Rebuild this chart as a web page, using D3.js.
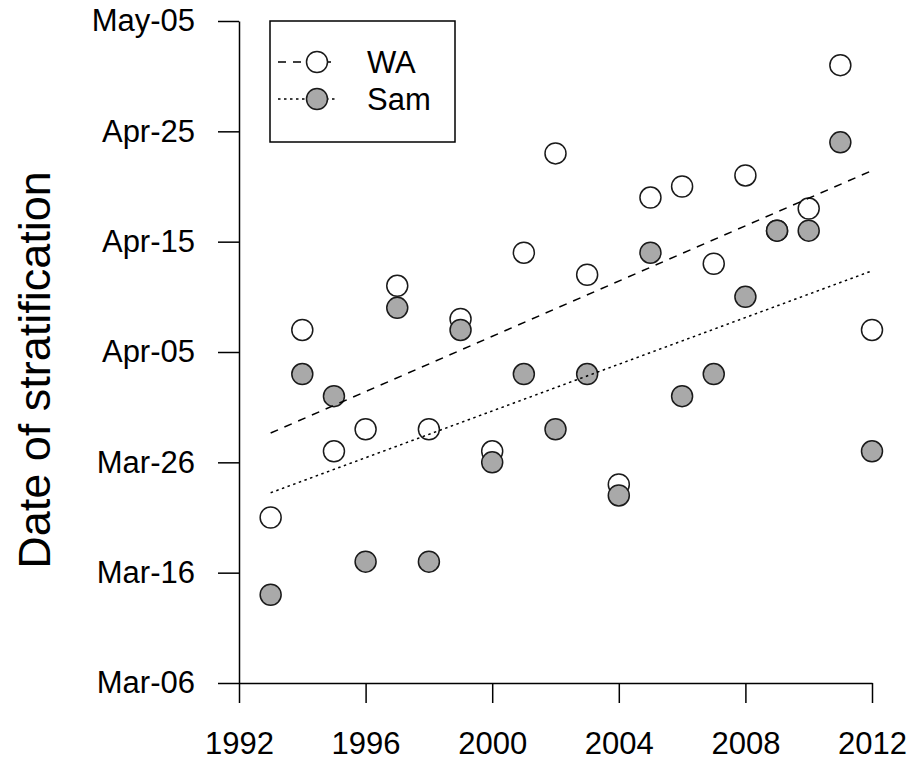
<!doctype html>
<html>
<head>
    <meta charset="UTF-8">
    <title>Date of stratification</title>
    <script src="https://d3js.org/d3.v7.min.js"></script>
    <style>
        body { margin: 0; background: #fff; }
        svg { display: block; font-family: "Liberation Sans", Arial, sans-serif; }
    </style>
</head>
<body>
<script>
    // years and days after Mar-06
    var years = [1993, 1994, 1995, 1996, 1997, 1998, 1999, 2000, 2001, 2002,
                 2003, 2004, 2005, 2006, 2007, 2008, 2009, 2010, 2011, 2012];
    var wa  = [15, 32, 21, 23, 36, 23, 33, 21, 39, 48, 37, 18, 44, 45, 38, 46, 41, 43, 56, 32];
    var sam = [8, 28, 26, 11, 34, 11, 32, 20, 28, 23, 28, 17, 39, 26, 28, 35, 41, 41, 49, 21];
    var xTicks = [1992, 1996, 2000, 2004, 2008, 2012];
    var yTicks = [0, 10, 20, 30, 40, 50, 60];
    var yLabels = ["Mar-06", "Mar-16", "Mar-26", "Apr-05", "Apr-15", "Apr-25", "May-05"];

    var w = 914;
    var h = 762;
    var r = 10.5;

    var svg = d3.select("body").append("svg")
        .attr("width", w)
        .attr("height", h);

    var x = d3.scaleLinear().domain([1992, 2012]).range([239, 872]);
    var y = d3.scaleLinear().domain([0, 60]).range([683, 21]);

    // axes
    var xAxis = d3.axisBottom(x).tickValues(xTicks).tickFormat(d3.format("d"))
        .tickSize(20).tickSizeOuter(0).tickPadding(29);
    var yAxis = d3.axisLeft(y).tickValues(yTicks)
        .tickFormat(function(d, i){ return yLabels[i]; })
        .tickSize(21).tickSizeOuter(0).tickPadding(23);

    svg.append("g").attr("transform", "translate(0,683)").call(xAxis);
    svg.append("g").attr("transform", "translate(239,0)").call(yAxis);

    svg.selectAll(".domain, .tick line")
        .attr("stroke", "#000")
        .attr("stroke-width", 1.5);
    svg.selectAll(".tick text")
        .attr("fill", "#000")
        .style("font-size", "31px")
        .style("font-family", "'Liberation Sans', Arial, sans-serif");

    // axis title
    svg.append("text")
        .attr("transform", "translate(50,370) rotate(-90)")
        .attr("text-anchor", "middle")
        .style("font-size", "45px")
        .text("Date of stratification");

    // points: WA first, Sam on top
    function points(data, fill) {
        svg.append("g").selectAll("circle")
            .data(data)
            .enter().append("circle")
            .attr("cx", function(d, i){ return x(years[i]); })
            .attr("cy", function(d){ return y(d); })
            .attr("r", r)
            .attr("fill", fill)
            .attr("stroke", "#1a1a1a")
            .attr("stroke-width", 1.5);
    }
    points(wa, "#fff");
    points(sam, "#a9a9a9");

    // least squares fit lines
    function fit(data) {
        var mx = d3.mean(years), my = d3.mean(data);
        var sxy = 0, sxx = 0;
        for (var i = 0; i < years.length; i++) {
            sxy += (years[i] - mx) * (data[i] - my);
            sxx += (years[i] - mx) * (years[i] - mx);
        }
        var b = sxy / sxx;
        var x0 = d3.min(years), x1 = d3.max(years);
        return [[x0, my + b * (x0 - mx)], [x1, my + b * (x1 - mx)]];
    }
    var line = d3.line()
        .x(function(d){ return x(d[0]); })
        .y(function(d){ return y(d[1]); });

    svg.append("path").datum(fit(wa)).attr("d", line)
        .attr("fill", "none").attr("stroke", "#000")
        .attr("stroke-width", 1.5).attr("stroke-dasharray", "8,7");
    svg.append("path").datum(fit(sam)).attr("d", line)
        .attr("fill", "none").attr("stroke", "#000")
        .attr("stroke-width", 1.5).attr("stroke-dasharray", "2.5,3.5");

    // legend
    var legend = svg.append("g");
    legend.append("rect")
        .attr("x", 270).attr("y", 21)
        .attr("width", 185).attr("height", 121)
        .attr("fill", "#fff").attr("stroke", "#000").attr("stroke-width", 1.5);

    var items = [
        {name: "WA", fill: "#fff", dash: "8,7", y: 62},
        {name: "Sam", fill: "#a9a9a9", dash: "2.5,3.5", y: 99}
    ];
    items.forEach(function(d){
        legend.append("line")
            .attr("x1", 278).attr("x2", 338)
            .attr("y1", d.y).attr("y2", d.y)
            .attr("stroke", "#000").attr("stroke-width", 1.5)
            .attr("stroke-dasharray", d.dash);
        legend.append("circle")
            .attr("cx", 317).attr("cy", d.y).attr("r", r)
            .attr("fill", d.fill).attr("stroke", "#1a1a1a").attr("stroke-width", 1.5);
        legend.append("text")
            .attr("x", 367).attr("y", d.y).attr("dy", "0.36em")
            .style("font-size", "31px")
            .text(d.name);
    });
</script>
</body>
</html>
